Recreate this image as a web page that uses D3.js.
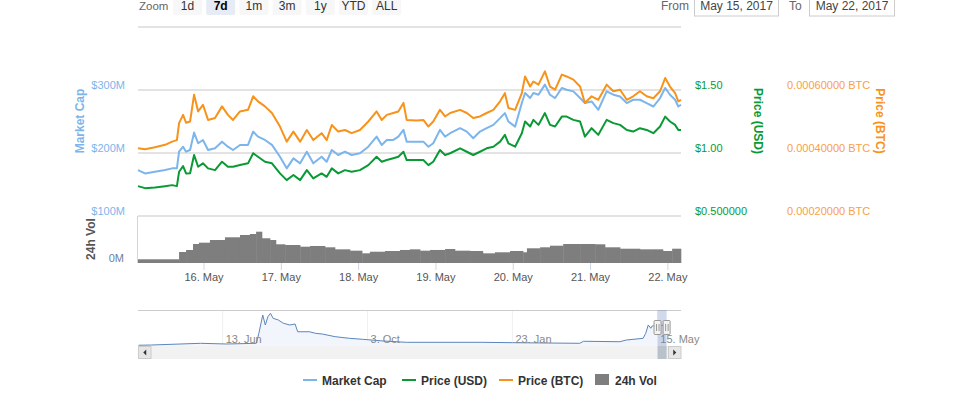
<!DOCTYPE html>
<html><head><meta charset="utf-8">
<script src="https://cdn.jsdelivr.net/npm/d3@7"></script>
<style>
body{margin:0;background:#fff;}
svg{display:block;font-family:"Liberation Sans",Arial,sans-serif;}
</style>
</head><body>
<svg id="chart" width="975" height="396"></svg>
<script>
// ---------- DATA ----------
const times = [
"2017-05-15T03:30","2017-05-15T05:40","2017-05-15T08:45","2017-05-15T11:55","2017-05-15T14:05","2017-05-15T15:35","2017-05-15T16:15","2017-05-15T17:30","2017-05-15T18:25","2017-05-15T19:40","2017-05-15T20:55","2017-05-15T22:10","2017-05-15T23:40",
"2017-05-16T01:15","2017-05-16T03:25","2017-05-16T05:35","2017-05-16T07:25","2017-05-16T09:00","2017-05-16T11:10","2017-05-16T13:40","2017-05-16T15:15","2017-05-16T16:45","2017-05-16T18:55","2017-05-16T21:05","2017-05-16T23:35",
"2017-05-17T01:40","2017-05-17T03:45","2017-05-17T05:50","2017-05-17T07:55","2017-05-17T09:55","2017-05-17T12:30","2017-05-17T14:05","2017-05-17T15:40","2017-05-17T17:40","2017-05-17T19:45","2017-05-17T21:50",
"2017-05-18T00:25","2017-05-18T03:00","2017-05-18T05:35","2017-05-18T07:10","2017-05-18T08:45","2017-05-18T10:45","2017-05-18T12:20","2017-05-18T13:55","2017-05-18T14:55","2017-05-18T18:00","2017-05-18T20:05","2017-05-18T21:40","2017-05-18T23:10",
"2017-05-19T01:15","2017-05-19T02:50","2017-05-19T04:25","2017-05-19T07:30","2017-05-19T09:35","2017-05-19T11:35","2017-05-19T13:40","2017-05-19T15:45","2017-05-19T17:50","2017-05-19T19:55","2017-05-19T21:25","2017-05-19T22:30",
"2017-05-20T00:35","2017-05-20T02:40","2017-05-20T03:40","2017-05-20T05:15","2017-05-20T06:15","2017-05-20T07:50","2017-05-20T09:50","2017-05-20T11:25","2017-05-20T13:00","2017-05-20T15:05","2017-05-20T16:35","2017-05-20T18:40","2017-05-20T20:45","2017-05-20T22:15",
"2017-05-21T00:20","2017-05-21T02:25","2017-05-21T05:00","2017-05-21T07:05","2017-05-21T09:10","2017-05-21T11:15","2017-05-21T13:15","2017-05-21T15:20","2017-05-21T17:25","2017-05-21T19:30","2017-05-21T21:35","2017-05-21T23:10",
"2017-05-22T00:40","2017-05-22T02:15","2017-05-22T03:15","2017-05-22T04:05"
];
// Market cap, millions USD
const marketCap = [
172.9,167.6,170.2,172.9,175.6,175.6,202.1,210.0,202.1,204.8,232.4,215.5,220.7,
204.8,207.5,218.0,210.0,204.8,212.8,212.8,234.0,226.0,220.7,212.8,194.1,
175.6,191.5,183.6,202.1,183.6,194.1,186.1,204.8,196.8,202.1,196.8,
199.5,210.0,226.0,212.8,220.7,220.7,226.0,236.7,218.0,218.0,218.0,210.0,215.5,
236.7,226.0,231.4,239.4,234.0,223.4,234.0,239.4,244.7,255.3,263.3,249.9,
241.9,279.3,295.2,287.2,295.2,292.5,308.5,292.5,287.2,303.2,300.5,297.8,287.2,279.3,
281.8,268.6,297.8,292.5,289.8,279.3,284.5,284.5,279.3,273.8,287.2,303.2,
292.5,284.5,273.8,276.6
];
const priceUSD = [
0.737,0.721,0.726,0.737,0.745,0.737,0.851,0.896,0.838,0.840,0.984,0.891,0.918,
0.878,0.864,0.931,0.891,0.891,0.904,0.918,0.998,0.970,0.931,0.918,0.838,
0.785,0.825,0.785,0.864,0.798,0.838,0.811,0.878,0.838,0.864,0.851,
0.864,0.904,0.970,0.931,0.944,0.958,0.970,1.010,0.944,0.944,0.944,0.904,0.931,
1.024,0.984,0.998,1.037,1.010,0.984,1.010,1.037,1.050,1.090,1.144,1.077,
1.050,1.157,1.250,1.210,1.263,1.223,1.317,1.223,1.210,1.289,1.289,1.263,1.250,1.130,
1.197,1.144,1.263,1.237,1.223,1.183,1.170,1.197,1.183,1.157,1.210,1.289,
1.250,1.223,1.183,1.183
];
const priceBTC = [
0.000415,0.000412,0.000418,0.000426,0.000436,0.000441,0.000495,0.000521,0.000496,0.000500,0.000585,0.000532,0.000553,
0.000505,0.000511,0.000548,0.000521,0.000505,0.000532,0.000537,0.000580,0.000564,0.000548,0.000527,0.000484,
0.000436,0.000468,0.000436,0.000473,0.000441,0.000463,0.000441,0.000489,0.000468,0.000473,0.000463,
0.000473,0.000500,0.000532,0.000505,0.000521,0.000527,0.000532,0.000559,0.000505,0.000503,0.000505,0.000484,0.000500,
0.000537,0.000516,0.000527,0.000537,0.000527,0.000511,0.000516,0.000527,0.000537,0.000564,0.000590,0.000543,
0.000537,0.000590,0.000643,0.000611,0.000627,0.000617,0.000659,0.000611,0.000601,0.000649,0.000643,0.000633,0.000611,0.000559,
0.000580,0.000569,0.000617,0.000596,0.000601,0.000569,0.000580,0.000596,0.000580,0.000574,0.000596,0.000638,
0.000611,0.000590,0.000564,0.000569
];
// 24h volume, millions USD
const volTimes = [
"2017-05-15T03:30","2017-05-15T16:15","2017-05-15T18:25","2017-05-15T20:35","2017-05-15T22:25",
"2017-05-16T01:50","2017-05-16T06:30","2017-05-16T11:10","2017-05-16T14:15","2017-05-16T16:10","2017-05-16T18:00","2017-05-16T20:30","2017-05-16T22:20",
"2017-05-17T01:10","2017-05-17T05:50","2017-05-17T08:55","2017-05-17T13:35","2017-05-17T16:40","2017-05-17T21:20",
"2017-05-18T01:05","2017-05-18T03:30","2017-05-18T08:10","2017-05-18T12:50","2017-05-18T15:55","2017-05-18T19:05","2017-05-18T22:10",
"2017-05-19T02:50","2017-05-19T05:55","2017-05-19T10:35","2017-05-19T14:35","2017-05-19T18:20","2017-05-19T23:00",
"2017-05-20T03:05","2017-05-20T04:15","2017-05-20T08:20","2017-05-20T11:25","2017-05-20T15:30","2017-05-20T20:45",
"2017-05-21T01:25","2017-05-21T04:30","2017-05-21T09:10","2017-05-21T15:20","2017-05-21T20:00","2017-05-21T22:30",
"2017-05-22T01:20"
];
const volume = [
7.9,23.4,27.7,40.4,43.2,
48.9,54.7,59.6,61.7,66.6,52.6,48.9,39.8,
38.3,34.7,36.2,33.4,29.1,26.2,
20.6,24.0,25.5,27.7,29.1,26.2,27.7,
29.8,26.2,25.5,20.6,22.8,25.5,
22.8,31.3,33.4,36.8,40.4,40.4,
39.8,33.4,30.4,29.1,29.1,25.5,
30.4
];
// Navigator (long-range market cap, millions USD)
const navDates = [
"2016-04-09","2016-04-19","2016-05-27","2016-06-16","2016-07-09","2016-07-11","2016-07-14","2016-07-16","2016-07-18","2016-07-20",
"2016-07-22","2016-07-26","2016-07-30","2016-08-04","2016-08-08","2016-08-10","2016-08-19","2016-08-24","2016-08-29","2016-09-08",
"2016-09-19","2016-09-29","2016-10-15","2016-11-02","2016-12-29","2017-01-23","2017-03-16","2017-03-19","2017-04-16","2017-04-21",
"2017-05-04","2017-05-06","2017-05-08","2017-05-10","2017-05-11","2017-05-15","2017-05-22"
];
const navMarketCap = [
10,13.5,36.5,27,36.5,171,419,284,397,442,
375,352,307,284,298,193,193,171,162,126,
104,91,68,50,50,45,36.5,64,58,81,
104,171,284,240,271,280,280
];
const navRange = ["2016-04-08T14:00","2017-06-02T07:00"];
const navTickDates = ["2016-06-13","2016-10-03","2017-01-23","2017-05-15"];
const navTickLabels = ["13. Jun","3. Oct","23. Jan","15. May"];

const xTickDates = ["2017-05-16","2017-05-17","2017-05-18","2017-05-19","2017-05-20","2017-05-21","2017-05-22"];
const xTickLabels = ["16. May","17. May","18. May","19. May","20. May","21. May","22. May"];
const mcapTicks = [100,200,300,400];
const mcapTickLabels = ["$100M","$200M","$300M",""];
const usdTicks = [0.5,1.0,1.5];
const usdTickLabels = ["$0.500000","$1.00","$1.50"];
const btcTicks = [0.0002,0.0004,0.0006];
const btcTickLabels = ["0.00020000 BTC","0.00040000 BTC","0.00060000 BTC"];
const volTicks = [0];
const volTickLabels = ["0M"];
const zoomButtons = ["1d","7d","1m","3m","1y","YTD","ALL"];
const selectedZoom = "7d";
const dateFrom = "May 15, 2017", dateTo = "May 22, 2017";
const seriesNames = ["Market Cap","Price (USD)","Price (BTC)","24h Vol"];

// ---------- STYLE ----------
const C = {mcap:"#7cb5ec", usd:"#0a9a35", btc:"#f7931a", vol:"#7e7e7e", grid:"#e3e3e3", text:"#666"};
const L=138, R=681, T=27, B=216, VT=216, VB=263;
const NT=310, NB=346, SB=359;

const parse = d3.utcParse("%Y-%m-%dT%H:%M");
const parseDay = d3.utcParse("%Y-%m-%d");
const svg = d3.select("#chart");

// ---------- SCALES ----------
const x = d3.scaleUtc().domain([parse(times[0]), parse(times[times.length-1])]).range([L,R]);
const yM = d3.scaleLinear().domain([100,400]).range([B,T]);
const yU = d3.scaleLinear().domain([0.5,2.0]).range([B,T]);
const yB = d3.scaleLinear().domain([0.0002,0.0008]).range([B,T]);
const yV = d3.scaleLinear().domain([0,100]).range([VB,VT]);
const xN = d3.scaleUtc().domain(navRange.map(parse)).range([L,R]);
const yN = d3.scaleLinear().domain([0,460]).range([NB,NT+2]);

// ---------- TOP CONTROLS ----------
svg.append("text").attr("x",139).attr("y",10).attr("font-size",11.5).attr("fill","#666").text("Zoom");
const btn = svg.append("g");
zoomButtons.forEach((b,i)=>{
  const bx = 173 + i*33.2;
  btn.append("rect").attr("x",bx).attr("y",-4).attr("width",29).attr("height",19).attr("rx",2)
    .attr("fill", b===selectedZoom ? "#e6ebf5" : "#f7f7f7");
  btn.append("text").attr("x",bx+14.5).attr("y",10).attr("text-anchor","middle").attr("font-size",12)
    .attr("font-weight", b===selectedZoom ? "bold":"normal").attr("fill", b===selectedZoom?"#000":"#333").text(b);
});
svg.append("text").attr("x",661).attr("y",10).attr("font-size",12).attr("fill","#666").text("From");
svg.append("rect").attr("x",694.5).attr("y",-4.5).attr("width",84).attr("height",20.5).attr("fill","#fff").attr("stroke","#ccc");
svg.append("text").attr("x",736.5).attr("y",10).attr("text-anchor","middle").attr("font-size",12).attr("fill","#444").text(dateFrom);
svg.append("text").attr("x",789).attr("y",10).attr("font-size",12).attr("fill","#666").text("To");
svg.append("rect").attr("x",809.5).attr("y",-4.5).attr("width",85).attr("height",20.5).attr("fill","#fff").attr("stroke","#ccc");
svg.append("text").attr("x",852).attr("y",10).attr("text-anchor","middle").attr("font-size",12).attr("fill","#444").text(dateTo);

// ---------- GRID ----------
svg.append("g").selectAll("line").data(mcapTicks).join("line")
  .attr("x1",L).attr("x2",R).attr("y1",d=>yM(d)).attr("y2",d=>yM(d))
  .attr("stroke",C.grid).attr("stroke-width",2);

// ---------- AXIS LABELS ----------
const ax = svg.append("g").attr("font-size",11);
mcapTicks.forEach((v,i)=>{ if(mcapTickLabels[i]) ax.append("text").attr("x",125).attr("y",yM(v)-1).attr("text-anchor","end").attr("fill",C.mcap).text(mcapTickLabels[i]); });
usdTicks.forEach((v,i)=> ax.append("text").attr("x",695).attr("y",yU(v)-1).attr("fill",C.usd).text(usdTickLabels[i]));
btcTicks.forEach((v,i)=> ax.append("text").attr("x",787).attr("y",yB(v)-1).attr("fill","#f9a04a").text(btcTickLabels[i]));
volTicks.forEach((v,i)=> ax.append("text").attr("x",124).attr("y",yV(v)-1).attr("text-anchor","end").attr("fill","#6b7fa0").text(volTickLabels[i]));

function vtitle(tx,ty,rot,txt,col){
  svg.append("text").attr("transform",`translate(${tx},${ty}) rotate(${rot})`).attr("text-anchor","middle")
    .attr("font-size",12).attr("font-weight","bold").attr("fill",col).text(txt);
}
vtitle(84,121,-90,seriesNames[0],C.mcap);
vtitle(95,239,-90,"24h Vol","#555");
vtitle(754,121,90,seriesNames[1],C.usd);
vtitle(876,121,90,seriesNames[2],C.btc);

// ---------- VOLUME ----------
const vdata = volTimes.map((t,i)=>({t:parse(t), v:volume[i]}));
const xEnd = x.domain()[1];
svg.append("g").selectAll("rect").data(vdata).join("rect")
  .attr("x",d=>x(d.t))
  .attr("width",(d,i)=> x(i<vdata.length-1 ? vdata[i+1].t : xEnd) - x(d.t) + 0.3)
  .attr("y",d=>yV(d.v)).attr("height",d=>yV(0)-yV(d.v))
  .attr("fill",C.vol);
// volume y axis line
svg.append("line").attr("x1",L-0.5).attr("x2",L-0.5).attr("y1",VT).attr("y2",VB).attr("stroke","#ccd6eb");
// x ticks & labels
const xt = xTickDates.map(parseDay);
svg.append("g").selectAll("line").data(xt).join("line")
  .attr("x1",d=>x(d)).attr("x2",d=>x(d)).attr("y1",VB).attr("y2",VB+7).attr("stroke","#ccd6eb");
svg.append("g").selectAll("text").data(xt).join("text")
  .attr("x",d=>x(d)).attr("y",281).attr("text-anchor","middle").attr("font-size",11).attr("fill","#555")
  .text((d,i)=>xTickLabels[i]);

// ---------- LINES ----------
const pts = times.map((t,i)=>({t:parse(t), m:marketCap[i], u:priceUSD[i], b:priceBTC[i]}));
const lineG = svg.append("g").attr("fill","none").attr("stroke-width",2).attr("stroke-linejoin","round");
lineG.append("path").attr("d",d3.line().x(d=>x(d.t)).y(d=>yM(d.m))(pts)).attr("stroke",C.mcap);
lineG.append("path").attr("d",d3.line().x(d=>x(d.t)).y(d=>yU(d.u))(pts)).attr("stroke",C.usd);
lineG.append("path").attr("d",d3.line().x(d=>x(d.t)).y(d=>yB(d.b))(pts)).attr("stroke",C.btc);

// ---------- NAVIGATOR ----------
const nd = navDates.map((t,i)=>({t:parseDay(t), v:navMarketCap[i]}));
const nt = navTickDates.map(parseDay);
svg.append("g").selectAll("line").data(nt).join("line")
  .attr("x1",d=>xN(d)).attr("x2",d=>xN(d)).attr("y1",NT).attr("y2",NB).attr("stroke","#f0f0f0");
svg.append("path").attr("d",d3.area().x(d=>xN(d.t)).y0(NB).y1(d=>yN(d.v))(nd)).attr("fill","#f2f5fb");
svg.append("path").attr("d",d3.line().x(d=>xN(d.t)).y(d=>yN(d.v))(nd)).attr("fill","none").attr("stroke","#5b86bd").attr("stroke-width",1);
svg.append("g").selectAll("text").data(nt).join("text")
  .attr("x",d=>xN(d)+3).attr("y",343).attr("font-size",11).attr("fill","#888").text((d,i)=>navTickLabels[i]);
svg.append("line").attr("x1",L).attr("x2",R).attr("y1",NT+0.5).attr("y2",NT+0.5).attr("stroke","#ccc");
// selection mask
const s0 = xN(x.domain()[0]), s1 = xN(x.domain()[1]);
svg.append("rect").attr("x",s0).attr("y",NT).attr("width",s1-s0).attr("height",NB-NT).attr("fill","rgba(102,133,194,0.3)");
// scrollbar
svg.append("rect").attr("x",L).attr("y",NB).attr("width",R-L).attr("height",SB-NB).attr("fill","#f2f2f2");
svg.append("rect").attr("x",s0).attr("y",NB).attr("width",s1-s0).attr("height",SB-NB).attr("fill","#b9c2cb");
[[L,-1],[R-13,1]].forEach(([bx,dir])=>{
  svg.append("rect").attr("x",bx+0.5).attr("y",NB+0.5).attr("width",12.5).attr("height",SB-NB-1).attr("fill","#e6e6e6").attr("stroke","#ccc");
  const cx = bx+6.75, cy=(NB+SB)/2;
  svg.append("path").attr("d", dir<0 ? `M${cx+1.5},${cy-3}L${cx-1.5},${cy}L${cx+1.5},${cy+3}Z` : `M${cx-1.5},${cy-3}L${cx+1.5},${cy}L${cx-1.5},${cy+3}Z`).attr("fill","#333");
});
// handles
[s0,s1].forEach(hx=>{
  svg.append("rect").attr("x",hx-3.5).attr("y",320.5).attr("width",7).attr("height",14).attr("rx",1).attr("fill","#f2f2f2").attr("stroke","#999");
  svg.append("path").attr("d",`M${hx-1},324V331M${hx+1.5},324V331`).attr("stroke","#999").attr("stroke-width",1);
});

// ---------- LEGEND ----------
const lg = svg.append("g").attr("font-size",12).attr("font-weight","bold").attr("fill","#333");
const legendX = [303,402,499,595];
const legendCol = [C.mcap,C.usd,C.btc,C.vol];
seriesNames.forEach((n,i)=>{
  const lx = legendX[i];
  if(i<3){
    lg.append("line").attr("x1",lx).attr("x2",lx+14).attr("y1",380).attr("y2",380).attr("stroke",legendCol[i]).attr("stroke-width",2);
    lg.append("text").attr("x",lx+19).attr("y",384.5).text(n);
  } else {
    lg.append("rect").attr("x",lx).attr("y",374).attr("width",14).attr("height",11).attr("fill",legendCol[i]);
    lg.append("text").attr("x",lx+20).attr("y",384.5).text(n);
  }
});
</script>
</body></html>
